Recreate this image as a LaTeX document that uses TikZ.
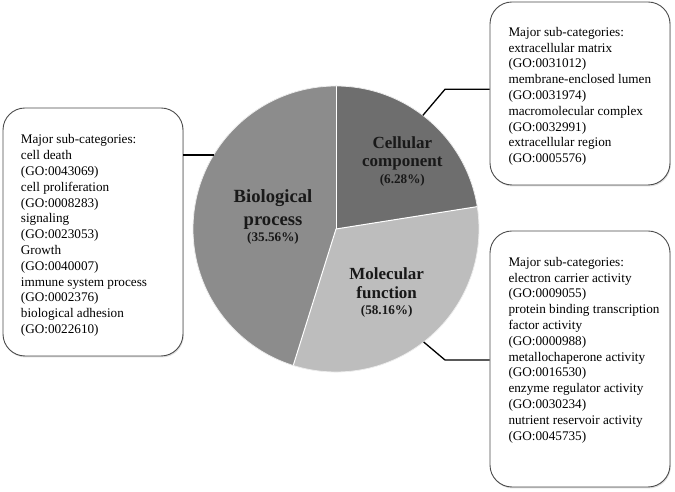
\documentclass[tikz,border=0pt]{standalone}
\usepackage{fontspec}
\setmainfont{Liberation Serif}
\usetikzlibrary{shadows}
\definecolor{cellc}{RGB}{110,110,110}
\definecolor{bioc}{RGB}{140,140,140}
\definecolor{molc}{RGB}{189,189,189}
\begin{document}
\begin{tikzpicture}[x=1pt,y=1pt,
  box/.style={draw=black!70, line width=0.9pt, rounded corners=22pt, fill=white, inner sep=0pt,
    drop shadow={shadow xshift=0.8pt, shadow yshift=-1.5pt, opacity=0.25, fill=black!50}},
  boxtext/.style={font=\fontsize{13.2}{15.8}\selectfont, align=left, anchor=north west, inner sep=0pt, text=black},
  conn/.style={draw=black, line width=1.3pt},
  bigl/.style={font=\bfseries\fontsize{18.6}{20}\selectfont, anchor=base, inner sep=0pt, text=black!90},
  midl/.style={font=\bfseries\fontsize{17}{19}\selectfont, anchor=base, inner sep=0pt, text=black!90},
  pct/.style={font=\bfseries\fontsize{13.2}{15}\selectfont, anchor=base, inner sep=0pt, text=black!90},
  sep/.style={draw=white, line width=1pt}]
\useasboundingbox (0,0) rectangle (675,492);
\coordinate (c) at (336,263);
% pie slices
\fill[cellc] (c) -- ++(9:143pt) arc[start angle=9, end angle=90, radius=143pt] -- cycle;
\fill[molc] (c) -- ++(-107.4:143pt) arc[start angle=-107.4, end angle=9, radius=143pt] -- cycle;
\fill[bioc] (c) -- ++(90:143pt) arc[start angle=90, end angle=252.6, radius=143pt] -- cycle;
\draw[sep] (c) -- ++(90:143pt);
\draw[sep] (c) -- ++(9:143pt);
\draw[sep] (c) -- ++(252.6:143pt);
\draw[white!85!gray, line width=0.8pt] (c) circle[radius=143pt];
% pie labels
\node[bigl] (bp1) at (273,289.3) {Biological};
\node[bigl] (bp2) at (273,266.3) {process};
\node[pct]  (bp3) at (273,250.3) {(35.56\%)};
\node[midl] (cc1) at (402.3,343.7) {Cellular};
\node[midl] (cc2) at (402.3,325.5) {component};
\node[pct]  (cc3) at (402.3,308) {(6.28\%)};
\node[midl] (mf1) at (386.7,212) {Molecular};
\node[midl] (mf2) at (386.7,193) {function};
\node[pct]  (mf3) at (386.7,177) {(58.16\%)};
% boxes
\node[box, minimum width=180pt, minimum height=248pt] (lbox) at (93,260) {};
\node[box, minimum width=180pt, minimum height=183pt] (trbox) at (580,398.5) {};
\node[box, minimum width=180pt, minimum height=256pt] (brbox) at (580,133) {};
% connectors
\path (c) ++(148.9:143pt) coordinate (pl);
\draw[conn] (pl) -- (pl -| lbox.east);
\path (c) ++(52.6:143pt) coordinate (ptr);
\coordinate (ktr) at (445,402.7);
\draw[conn] (ptr) -- (ktr) -- (ktr -| trbox.west);
\path (c) ++(-52.2:143pt) coordinate (pbr);
\coordinate (kbr) at (445,132);
\draw[conn] (pbr) -- (kbr) -- (kbr -| brbox.west);
% box texts
\node[boxtext] (lt) at (20.7,357.5) {Major sub-categories:\\cell death\\(GO:0043069)\\cell proliferation\\(GO:0008283)\\signaling\\(GO:0023053)\\Growth\\(GO:0040007)\\immune system process\\(GO:0002376)\\biological adhesion\\(GO:0022610)};
\node[boxtext] (trt) at (508.3,465) {Major sub-categories:\\extracellular matrix\\(GO:0031012)\\membrane-enclosed lumen\\(GO:0031974)\\macromolecular complex\\(GO:0032991)\\extracellular region\\(GO:0005576)};
\node[boxtext] (brt) at (508.3,235) {Major sub-categories:\\electron carrier activity\\(GO:0009055)\\protein binding transcription\\factor activity\\(GO:0000988)\\metallochaperone activity\\(GO:0016530)\\enzyme regulator activity\\(GO:0030234)\\nutrient reservoir activity\\(GO:0045735)};
\end{tikzpicture}
\end{document}
